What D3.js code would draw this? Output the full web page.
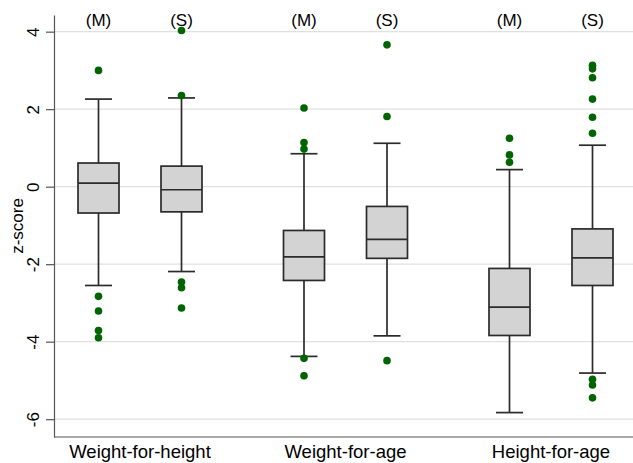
<!DOCTYPE html>
<html>
<head>
<meta charset="utf-8">
<script src="https://cdn.jsdelivr.net/npm/d3@7"></script>
<style>
  body { margin: 0; background: #fff; }
  text { font-family: "Liberation Sans", Arial, sans-serif; fill: #000; }
</style>
</head>
<body>
<div id="chart"></div>
<script>
// Categories
const groups = ["Weight-for-height", "Weight-for-age", "Height-for-age"];
const subgroups = ["(M)", "(S)"];

// Box statistics, order: WFH M, WFH S, WFA M, WFA S, HFA M, HFA S
const lowerWhisker = [-2.55, -2.19, -4.38, -3.85, -5.83, -4.81];
const q1Values     = [-0.68, -0.65, -2.42, -1.85, -3.84, -2.55];
const medianValues = [0.09, -0.08, -1.81, -1.36, -3.11, -1.84];
const q3Values     = [0.61, 0.53, -1.13, -0.51, -2.11, -1.09];
const upperWhisker = [2.26, 2.29, 0.85, 1.12, 0.44, 1.07];
const outlierValues = [
  [3.0, -2.83, -3.21, -3.71, -3.90],
  [4.03, 2.35, -2.46, -2.61, -3.13],
  [2.03, 1.14, 0.97, -4.43, -4.88],
  [3.66, 1.81, -4.49],
  [1.25, 0.82, 0.63],
  [3.13, 3.04, 2.81, 2.26, 1.79, 1.38, -4.97, -5.12, -5.45]
];
const yTicks = [-6, -4, -2, 0, 2, 4];

const width = 633, height = 463;
const margin = {top: 15, right: 0, bottom: 26, left: 54};

const svg = d3.select("#chart")
  .append("svg")
    .attr("width", width)
    .attr("height", height);

// Scales
const y = d3.scaleLinear()
  .domain([-6.46, 4.43])
  .range([height - margin.bottom, margin.top]);

const xGroup = d3.scalePoint()
  .domain(groups)
  .range([140, 551]);

const xSub = d3.scalePoint()
  .domain(subgroups)
  .range([-41.5, 41.5]);

// Flatten into one row per box
const boxes = [];
groups.forEach((g, gi) => {
  subgroups.forEach((s, si) => {
    const i = gi * 2 + si;
    boxes.push({
      group: g, sub: s,
      lo: lowerWhisker[i], q1: q1Values[i], med: medianValues[i],
      q3: q3Values[i], hi: upperWhisker[i], out: outlierValues[i]
    });
  });
});
const cx = d => xGroup(d.group) + xSub(d.sub);

// Gridlines
svg.append("g")
  .selectAll("line")
  .data(yTicks)
  .join("line")
    .attr("x1", margin.left)
    .attr("x2", width)
    .attr("y1", d => y(d))
    .attr("y2", d => y(d))
    .attr("stroke", "#e0e0e0")
    .attr("stroke-width", 1.2);

// Y axis (plain hyphen for negatives, like the original)
const yAxis = svg.append("g")
  .attr("transform", `translate(${margin.left},0)`)
  .call(d3.axisLeft(y).tickValues(yTicks).tickSize(8).tickSizeOuter(0)
    .tickFormat(d => String(d)));
yAxis.select(".domain").attr("stroke", "#555").attr("stroke-width", 1.2);
yAxis.selectAll(".tick line").attr("stroke", "#555").attr("stroke-width", 1.2);
yAxis.selectAll(".tick text")
  .attr("x", 0).attr("y", 0).attr("dy", null)
  .attr("transform", "translate(-15,0) rotate(-90)")
  .attr("text-anchor", "middle")
  .style("font-size", "17px")
  .style("font-family", "'Liberation Sans', Arial, sans-serif");

// Bottom axis line
svg.append("line")
  .attr("x1", margin.left)
  .attr("x2", width)
  .attr("y1", y.range()[0])
  .attr("y2", y.range()[0])
  .attr("stroke", "#555")
  .attr("stroke-width", 1.2);

// Y axis title
svg.append("text")
  .attr("transform", `translate(23, ${(y.range()[0] + y.range()[1]) / 2}) rotate(-90)`)
  .attr("text-anchor", "middle")
  .style("font-size", "17px")
  .text("z-score");

// Group labels
svg.append("g")
  .selectAll("text")
  .data(groups)
  .join("text")
    .attr("x", d => xGroup(d))
    .attr("y", 458)
    .attr("text-anchor", "middle")
    .style("font-size", "18.5px")
    .text(d => d);

// Subgroup labels at top
svg.append("g")
  .selectAll("text")
  .data(boxes)
  .join("text")
    .attr("x", cx)
    .attr("y", 25.5)
    .attr("text-anchor", "middle")
    .style("font-size", "17px")
    .text(d => d.sub);

const boxHalf = 20.5, capHalf = 13.5;
const stroke = "#2b2b2b";

const boxG = svg.append("g")
  .selectAll("g")
  .data(boxes)
  .join("g");

// Whiskers
boxG.append("line")
  .attr("x1", cx).attr("x2", cx)
  .attr("y1", d => y(d.hi)).attr("y2", d => y(d.q3))
  .attr("stroke", stroke).attr("stroke-width", 1.7);
boxG.append("line")
  .attr("x1", cx).attr("x2", cx)
  .attr("y1", d => y(d.q1)).attr("y2", d => y(d.lo))
  .attr("stroke", stroke).attr("stroke-width", 1.7);

// Caps
boxG.append("line")
  .attr("x1", d => cx(d) - capHalf).attr("x2", d => cx(d) + capHalf)
  .attr("y1", d => y(d.hi)).attr("y2", d => y(d.hi))
  .attr("stroke", stroke).attr("stroke-width", 1.7);
boxG.append("line")
  .attr("x1", d => cx(d) - capHalf).attr("x2", d => cx(d) + capHalf)
  .attr("y1", d => y(d.lo)).attr("y2", d => y(d.lo))
  .attr("stroke", stroke).attr("stroke-width", 1.7);

// Boxes
boxG.append("rect")
  .attr("x", d => cx(d) - boxHalf)
  .attr("width", boxHalf * 2)
  .attr("y", d => y(d.q3))
  .attr("height", d => y(d.q1) - y(d.q3))
  .attr("fill", "#d3d3d3")
  .attr("stroke", stroke)
  .attr("stroke-width", 1.7);

// Median
boxG.append("line")
  .attr("x1", d => cx(d) - boxHalf).attr("x2", d => cx(d) + boxHalf)
  .attr("y1", d => y(d.med)).attr("y2", d => y(d.med))
  .attr("stroke", stroke).attr("stroke-width", 1.7);

// Outliers
boxG.selectAll("circle")
  .data(d => d.out.map(v => ({v: v, d: d})))
  .join("circle")
    .attr("cx", o => cx(o.d))
    .attr("cy", o => y(o.v))
    .attr("r", 3.8)
    .attr("fill", "#006400");
</script>
</body>
</html>
